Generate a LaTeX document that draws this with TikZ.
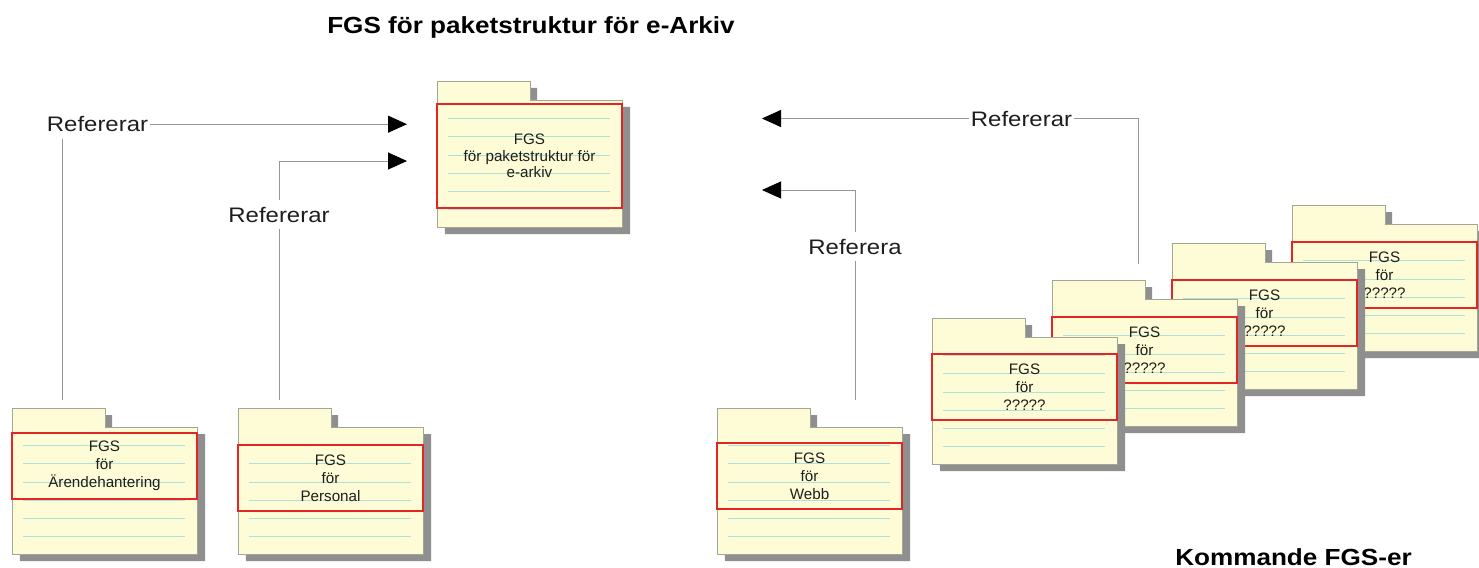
\documentclass[tikz,border=0pt]{standalone}
\usepackage{fontspec}
\setmainfont{Liberation Sans}
\newfontfamily\pkgfont{Liberation Sans}
\newfontfamily\labelfont[FakeStretch=1.14]{Liberation Sans}
\newfontfamily\headfont[FakeStretch=1.12]{Liberation Sans}
\usetikzlibrary{arrows.meta}

\definecolor{pkgfill}{RGB}{254,252,214}
\definecolor{pkgedge}{RGB}{165,165,150}
\definecolor{pkgshade}{RGB}{143,143,143}
\definecolor{pkgrule}{RGB}{172,226,216}
\definecolor{hilite}{RGB}{226,38,38}
\definecolor{linkgray}{RGB}{150,150,150}
\definecolor{inktext}{RGB}{30,30,30}

\tikzset{
  pkgbody/.style={fill=pkgfill, draw=pkgedge, line width=0.8pt},
  pkgshadow/.style={fill=pkgshade},
  pkgline/.style={draw=pkgrule, line width=0.8pt},
  pkgframe/.style={draw=hilite, line width=2pt},
  pkgtext/.style={font=\pkgfont\fontsize{15.2}{18}\selectfont, text=inktext,
                  align=center, inner sep=0pt},
  reflabel/.style={font=\labelfont\fontsize{21}{25}\selectfont, text=inktext,
                   anchor=base, inner xsep=2pt, inner ysep=7pt},
  refline/.style={draw=linkgray, line width=0.9pt},
  refarrow/.style={refline, -{Triangle[length=19pt,width=17pt,color=black]}},
  heading/.style={font=\headfont\bfseries\fontsize{23.3}{28}\selectfont,
                  text=black, anchor=base, inner sep=0pt},
}

% UML-style package: #1 node name, #2 left x, #3 top of body,
% #4 offset of the red frame below the body top, #5 frame height, #6 text
\newcommand{\fgspackage}[6]{%
  \begin{scope}[shift={(#2,#3)}]
    \fill[pkgshadow] (7,-12) -- (100,-12) -- (100,7) -- (193,7)
                     -- (193,134) -- (8,134) -- cycle;
    \filldraw[pkgbody] (0,-19) -- (93,-19) -- (93,0) -- (185,0)
                       -- (185,127) -- (0,127) -- cycle;
    \foreach \ly in {18.3,36.6,54.9,73.2,91.5,109.8}
      \draw[pkgline] (11,\ly) -- (173,\ly);
    \draw[pkgframe] (0,#4) rectangle (185,{#4+#5});
    \node[pkgtext] (#1) at (92.5,{#4+#5/2}) {#6};
  \end{scope}}

\begin{document}
\begin{tikzpicture}[x=1pt,y=-1pt]
  \fill[white] (0,0) rectangle (1479,567);
  \useasboundingbox (0,0) rectangle (1479,567);

  % headings
  \node[heading] (title) at (531,34) {FGS för paketstruktur för e-Arkiv};
  \node[heading] (future) at (1293.5,565) {Kommande FGS-er};

  % packages
  \fgspackage{cen}{437}{100}{4}{104}{FGS\\[-1.5pt]för paketstruktur för\\[-1.5pt]e-arkiv}
  \fgspackage{are}{12}{427}{6}{66}{FGS\\för\\Ärendehantering}
  \fgspackage{per}{238}{427}{18}{66}{FGS\\för\\Personal}
  \fgspackage{web}{717}{427}{16}{66}{FGS\\för\\Webb}
  \fgspackage{fut4}{1292}{224}{18}{66}{FGS\\för\\?????}
  \fgspackage{fut3}{1172}{262}{18}{66}{FGS\\för\\?????}
  \fgspackage{fut2}{1052}{299}{18}{66}{FGS\\för\\?????}
  \fgspackage{fut1}{932}{337}{17}{66}{FGS\\för\\?????}

  % reference labels
  \node[reflabel] (lab1) at (97.5,131.7) {Refererar};
  \node[reflabel] (lab2) at (279,222) {Refererar};
  \node[reflabel] (lab3) at (1021.5,126) {Refererar};
  \node[reflabel] (lab4) at (855,254) {Referera};

  % connector ends
  \coordinate (s1) at (62,400);
  \coordinate (s2) at (279,400);
  \coordinate (s3) at (1138,264);
  \coordinate (s4) at (855,400);
  \coordinate (tipL1) at (407,124);
  \coordinate (tipL2) at (407,161);
  \coordinate (tipR1) at (762,118);
  \coordinate (tipR2) at (762,190);

  % connectors
  \draw[refline] (s1) -- (s1 |- lab1.south);
  \draw[refarrow] (lab1.east) -- (lab1.east -| tipL1);
  \draw[refline] (s2) -- (lab2.south);
  \draw[refarrow] (lab2.north) |- (tipL2);
  \draw[refline] (s3) |- (lab3.east);
  \draw[refarrow] (lab3.west) -- (lab3.west -| tipR1);
  \draw[refline] (s4) -- (lab4.south);
  \draw[refarrow] (lab4.north) |- (tipR2);
\end{tikzpicture}
\end{document}
